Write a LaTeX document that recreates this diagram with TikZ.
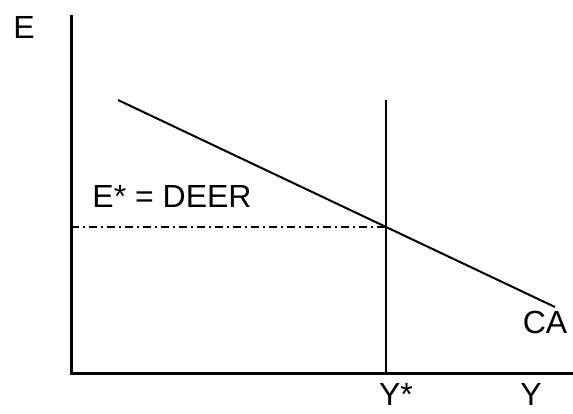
\documentclass[tikz,border=0pt]{standalone}
\usepackage{fontspec}
\setmainfont{Liberation Sans}
\usetikzlibrary{positioning}

\begin{document}
\begin{tikzpicture}[
  x=1pt, y=-1pt,
  axisline/.style={line width=3pt},
  curveline/.style={line width=2pt},
  lbl/.style={font=\fontsize{32}{36}\selectfont, inner sep=0pt}
]
\useasboundingbox (0,0) rectangle (573,413);

% Axes
\coordinate (top) at (71,15);
\coordinate (origin) at (71,373);
\coordinate (right) at (573,373);
\draw[axisline] (top) -- (origin) -- (right);

% Vertical Y* line
\coordinate (ystartop) at (386,100);
\coordinate (ystarbase) at (386,373);
\draw[curveline] (ystartop) -- (ystarbase);

% CA schedule
\coordinate (cabegin) at (118,100);
\coordinate (caend) at (555,307);
\draw[curveline] (cabegin) -- (caend);

% Equilibrium level
\coordinate (eqleft) at (71,227);
\coordinate (eq) at (386,227);
\draw[line width=1.5pt, dash pattern=on 8pt off 4pt on 2pt off 4pt] (eqleft) -- (eq);

% Labels
\node[lbl] (elabel) at (24,27) {E};
\node[lbl] (deer) at (172,196) {E* = DEER};
\node[lbl] (calabel) at (545,322) {CA};
\node[lbl] (ystar) at (396,394) {Y*};
\node[lbl] (ylabel) at (531,394) {Y};
\end{tikzpicture}
\end{document}
